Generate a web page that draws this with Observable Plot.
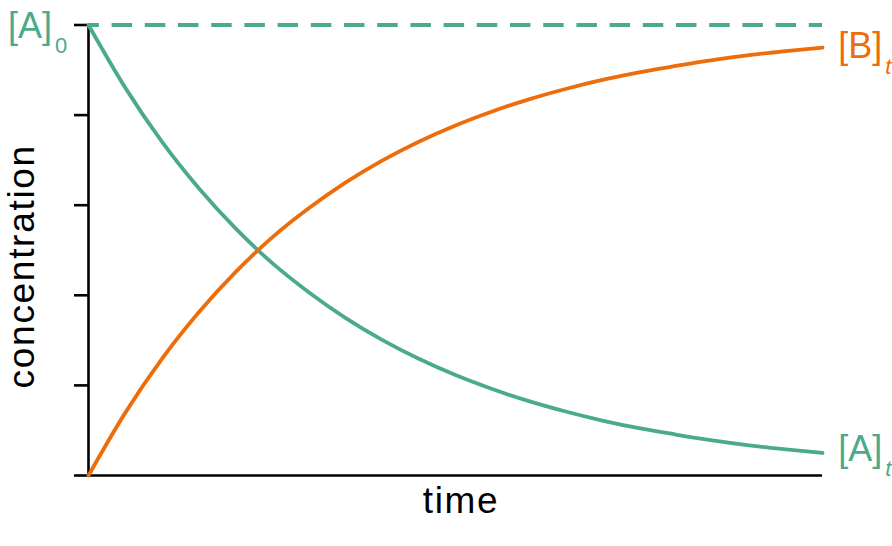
<!DOCTYPE html>
<html>
<head>
<meta charset="utf-8">
<script src="https://cdn.jsdelivr.net/npm/d3@7"></script>
<script src="https://cdn.jsdelivr.net/npm/@observablehq/plot@0.6"></script>
<style>
  html, body { margin: 0; padding: 0; background: #fff; }
  svg { display: block; }
</style>
</head>
<body>
<div id="chart"></div>
<script>
// time (fraction of shown interval)
const time = [0, 0.05, 0.10, 0.15, 0.20, 0.25, 0.30, 0.35, 0.40, 0.45, 0.50,
              0.55, 0.60, 0.65, 0.70, 0.75, 0.80, 0.85, 0.90, 0.95, 1.00];
// [A]t
const concA = [1.000, 0.861, 0.741, 0.638, 0.549, 0.472, 0.407, 0.350, 0.301, 0.259, 0.223,
               0.192, 0.165, 0.142, 0.122, 0.105, 0.091, 0.078, 0.067, 0.058, 0.050];
// [B]t
const concB = [0.000, 0.139, 0.259, 0.362, 0.451, 0.528, 0.593, 0.650, 0.699, 0.741, 0.777,
               0.808, 0.835, 0.858, 0.878, 0.895, 0.909, 0.922, 0.933, 0.942, 0.950];
const initialA = 1.0;
const yTicks = [0, 0.2, 0.4, 0.6, 0.8, 1.0];

const TEAL = "#4caa8c";
const ORANGE = "#ee6d0b";
const FONT = "'Liberation Sans', Arial, Helvetica, sans-serif";

const dataA = time.map((t, i) => ({t, v: concA[i]}));
const dataB = time.map((t, i) => ({t, v: concB[i]}));
const n = time.length - 1;

const chart = Plot.plot({
  width: 892,
  height: 546,
  marginLeft: 88,
  marginRight: 70,
  marginTop: 24.5,
  marginBottom: 71,
  style: {fontFamily: FONT, background: "#fff", overflow: "visible"},
  x: {domain: [0, 1], axis: null},
  y: {domain: [0, 1]},
  marks: [
    Plot.ruleY([initialA], {stroke: TEAL, strokeWidth: 4, strokeDasharray: "20.5,12.7", strokeDashoffset: 9.6}),
    Plot.axisY({ticks: yTicks, tickSize: 14, tickFormat: () => "", label: null, stroke: "#000", strokeWidth: 2.6}),
    Plot.ruleX([0], {stroke: "#000", strokeWidth: 2.6}),
    Plot.ruleY([0], {stroke: "#000", strokeWidth: 2.6}),
    Plot.line(dataA, {x: "t", y: "v", stroke: TEAL, strokeWidth: 3.8, curve: "monotone-x"}),
    Plot.line(dataB, {x: "t", y: "v", stroke: ORANGE, strokeWidth: 3.8, curve: "monotone-x"}),
    Plot.text(["[A]"], {x: 0, y: initialA, text: d => d, textAnchor: "end", dx: -21.3, dy: 1, fill: TEAL, fontSize: 36}),
    Plot.text(["[B]"], {x: time[n], y: concB[n], text: d => d, textAnchor: "start", dx: 15.7, dy: -1, fill: ORANGE, fontSize: 36}),
    Plot.text(["[A]"], {x: time[n], y: concA[n], text: d => d, textAnchor: "start", dx: 15.7, dy: -4, fill: TEAL, fontSize: 36}),
    Plot.text(["concentration"], {frameAnchor: "left", textAnchor: "middle", rotate: -90, dx: -66.5, dy: 16, fill: "#000", fontSize: 37}),
    Plot.text(["time"], {frameAnchor: "bottom", textAnchor: "middle", dx: 5.5, dy: 37, fill: "#000", fontSize: 37})
  ]
});

// subscripts on the labels, letter spacing on the axis titles
d3.select(chart).selectAll("text").each(function () {
  const el = d3.select(this);
  const txt = this.textContent;
  if (txt === "concentration" || txt === "time") {
    el.attr("letter-spacing", 1.7);
    return;
  }
  if (txt !== "[A]" && txt !== "[B]") return;
  const isInitial = el.attr("text-anchor") === "end" ||
                    (this.parentNode && this.parentNode.getAttribute("text-anchor") === "end");
  el.append("tspan")
    .attr("dx", 3)
    .attr("dy", 15.5)
    .attr("font-size", 22)
    .attr("font-style", isInitial ? "normal" : "italic")
    .text(isInitial ? "0" : "t");
});

document.getElementById("chart").appendChild(chart);
</script>
</body>
</html>
